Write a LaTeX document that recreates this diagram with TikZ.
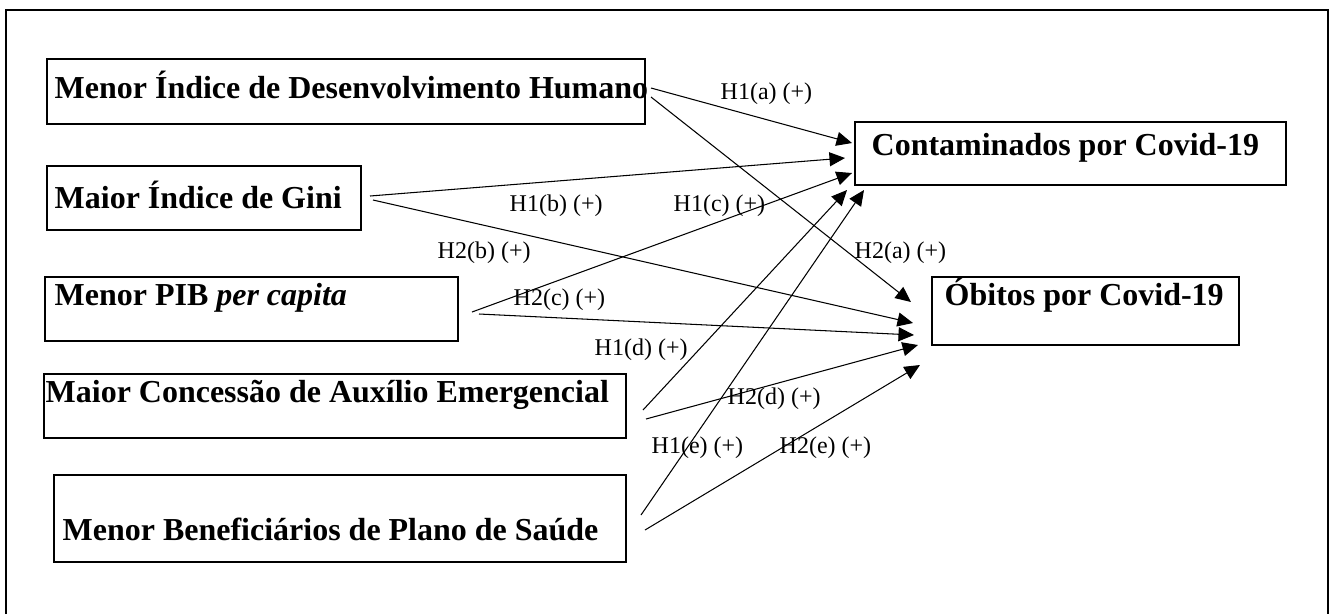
\documentclass[tikz,border=0pt]{standalone}
\usepackage{fontspec}
\setmainfont{Liberation Serif}
\usetikzlibrary{arrows.meta}

\begin{document}
\begin{tikzpicture}[
        varbox/.style={draw, line width=0.65pt, inner sep=0pt},
        vartext/.style={anchor=base west, inner sep=0pt, font=\fontsize{9.1}{11}\selectfont\bfseries},
        hyp/.style={anchor=base west, inner sep=0pt, font=\fontsize{6.83}{8}\selectfont},
        hypline/.style={-{Triangle[length=0.155cm,width=0.14cm]}, line width=0.3pt}
    ]
        % fix the size of the picture
        \useasboundingbox (0,0) rectangle (13.33,-6.14);
        % draw the frame, its bottom edge is cut off
        \draw[line width=0.7pt] (0.06,-6.14) |- (13.28,-0.10) -- (13.28,-6.14);
        % draw boxes for the variables
        \node[varbox, minimum width=5.98cm, minimum height=0.65cm] (idh) at (3.46,-0.915) {};
        \node[varbox, minimum width=3.14cm, minimum height=0.64cm] (gini) at (2.04,-1.98) {};
        \node[varbox, minimum width=4.13cm, minimum height=0.64cm] (pib) at (2.515,-3.09) {};
        \node[varbox, minimum width=5.82cm, minimum height=0.64cm] (aux) at (3.35,-4.06) {};
        \node[varbox, minimum width=5.72cm, minimum height=0.87cm] (plano) at (3.40,-5.185) {};
        \node[varbox, minimum width=4.31cm, minimum height=0.63cm] (cont) at (10.705,-1.535) {};
        \node[varbox, minimum width=3.07cm, minimum height=0.68cm] (obit) at (10.855,-3.11) {};
        % draw texts of the boxes
        \node[vartext] (idh-t) at (0.54,-0.98) {Menor Índice de Desenvolvimento Humano};
        \node[vartext] (gini-t) at (0.54,-2.08) {Maior Índice de Gini};
        \node[vartext] (pib-t) at (0.54,-3.05) {Menor PIB \textit{per capita}};
        \node[vartext] (aux-t) at (0.45,-4.02) {Maior Concessão de Auxílio Emergencial};
        \node[vartext] (plano-t) at (0.62,-5.40) {Menor Beneficiários de Plano de Saúde};
        \node[vartext] (cont-t) at (8.71,-1.55) {Contaminados por Covid-19};
        \node[vartext] (obit-t) at (9.44,-3.05) {Óbitos por Covid-19};
        % draw points where the arrows start and end
        \coordinate (idh-1) at (6.51,-0.88);
        \coordinate (idh-2) at (6.51,-0.97);
        \coordinate (gini-1) at (3.70,-1.96);
        \coordinate (gini-2) at (3.73,-2.00);
        \coordinate (pib-1) at (4.72,-3.12);
        \coordinate (pib-2) at (4.79,-3.14);
        \coordinate (aux-1) at (6.43,-4.10);
        \coordinate (aux-2) at (6.46,-4.19);
        \coordinate (plano-1) at (6.41,-5.15);
        \coordinate (plano-2) at (6.45,-5.30);
        \coordinate (cont-a) at (8.52,-1.43);
        \coordinate (cont-b) at (8.45,-1.58);
        \coordinate (cont-c) at (8.52,-1.73);
        \coordinate (cont-d) at (8.47,-1.90);
        \coordinate (cont-e) at (8.64,-1.90);
        \coordinate (obit-a) at (9.11,-3.02);
        \coordinate (obit-b) at (9.13,-3.23);
        \coordinate (obit-c) at (9.14,-3.35);
        \coordinate (obit-d) at (9.18,-3.45);
        \coordinate (obit-e) at (9.20,-3.65);
        % draw arrows for the hypotheses
        \foreach \a/\b in {idh-1/cont-a, idh-2/obit-a, gini-1/cont-b, gini-2/obit-b,
                pib-1/cont-c, pib-2/obit-c, aux-1/cont-d, aux-2/obit-d,
                plano-1/cont-e, plano-2/obit-e}
        \draw[hypline] (\a) -- (\b);
        % draw labels of the hypotheses
        \node[hyp] (h1a) at (7.20,-0.99) {H1(a) (+)};
        \node[hyp] (h1b) at (5.09,-2.11) {H1(b) (+)};
        \node[hyp] (h1c) at (6.73,-2.11) {H1(c) (+)};
        \node[hyp] (h2b) at (4.37,-2.58) {H2(b) (+)};
        \node[hyp] (h2a) at (8.54,-2.58) {H2(a) (+)};
        \node[hyp] (h2c) at (5.13,-3.05) {H2(c) (+)};
        \node[hyp] (h1d) at (5.94,-3.55) {H1(d) (+)};
        \node[hyp] (h2d) at (7.27,-4.04) {H2(d) (+)};
        \node[hyp] (h1e) at (6.51,-4.53) {H1(e) (+)};
        \node[hyp] (h2e) at (7.79,-4.53) {H2(e) (+)};

    \end{tikzpicture}
\end{document}
